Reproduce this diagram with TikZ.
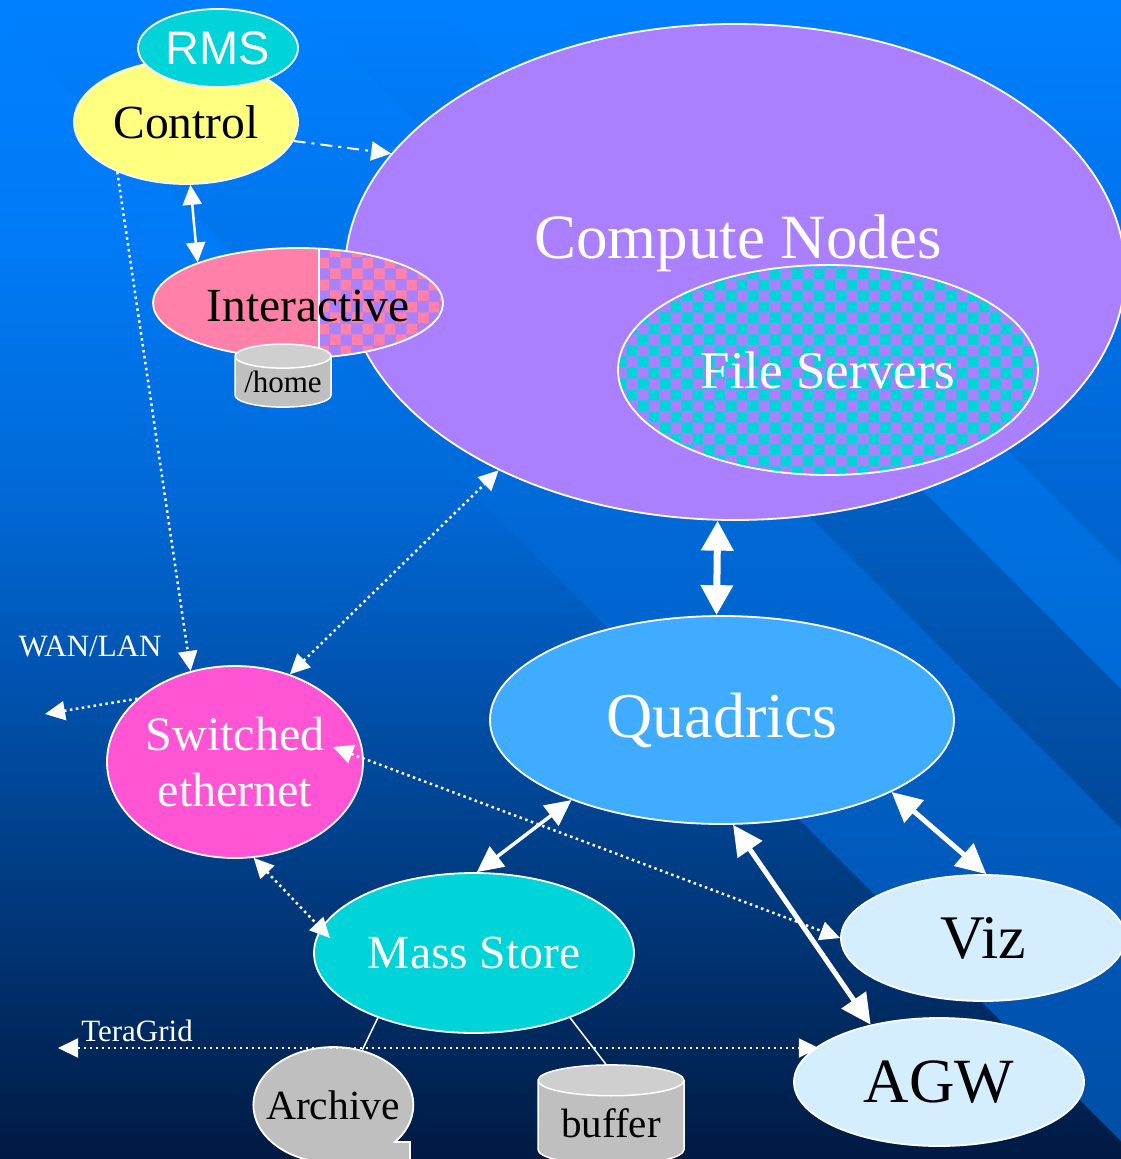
\documentclass[tikz,border=0pt]{standalone}
\usepackage{fontspec}
\setmainfont{Liberation Serif}
\newfontfamily\rmsfont{Liberation Sans}
\usetikzlibrary{shapes.geometric, arrows.meta, patterns}

\definecolor{bgtop}{HTML}{0080FF}
\definecolor{bgupper}{HTML}{007AF5}
\definecolor{bglower}{HTML}{0068D5}
\definecolor{bgmid}{HTML}{0058B8}
\definecolor{bgbot}{HTML}{001A42}
\definecolor{cpurple}{HTML}{AA80FF}
\definecolor{ccyan}{HTML}{00D4D8}
\definecolor{cyellow}{HTML}{FFFF80}
\definecolor{cpink}{HTML}{FF80A8}
\definecolor{cmagenta}{HTML}{FF55D5}
\definecolor{cquad}{HTML}{40ACFF}
\definecolor{clight}{HTML}{D5EEFF}
\definecolor{cangray}{HTML}{BFBFBF}
\definecolor{canlight}{HTML}{CFCFCF}

% slide background, stops placed in the 25bp--75bp part
\pgfdeclareverticalshading{slidebg}{100bp}{color(0bp)=(bgbot); color(25bp)=(bgbot); color(47.4bp)=(bgmid);
  color(53.4bp)=(bglower); color(64.2bp)=(bgupper); color(75bp)=(bgtop); color(100bp)=(bgtop)}

% checker cells of the shared parts
\pgfdeclarepatternformonly{bigcheck}{\pgfpointorigin}{\pgfqpoint{22pt}{22pt}}{\pgfqpoint{22pt}{22pt}}{%
  \pgfpathrectangle{\pgfpointorigin}{\pgfqpoint{11pt}{11pt}}%
  \pgfpathrectangle{\pgfqpoint{11pt}{11pt}}{\pgfqpoint{11pt}{11pt}}%
  \pgfusepath{fill}}

\def\headlen{20pt}
\tikzset{blob/.style={ellipse, draw=white, line width=1.8pt, inner sep=0pt}}
\tikzset{can/.style={cylinder, shape border rotate=90, aspect=0.31, draw=white, line width=1.5pt, cylinder uses custom fill, cylinder body fill=cangray, cylinder end fill=canlight, inner sep=0pt}}
\tikzset{link/.style={white, line width=2.5pt}}
\tikzset{dotlink/.style={white, line width=2.5pt, dash pattern=on 2.5pt off 3.5pt}}
\tikzset{dashlink/.style={white, line width=2pt, dash pattern=on 12pt off 6pt on 3pt off 6pt}}
\tikzset{bus/.style={white, line width=5pt}}
\tikzset{oneend/.style={-{Triangle[length=\headlen, width=19pt]}}}
\tikzset{bothends/.style={{Triangle[length=\headlen, width=19pt]}-{Triangle[length=\headlen, width=19pt]}}}
\tikzset{bigends/.style={{Triangle[length=30pt, width=29pt]}-{Triangle[length=30pt, width=29pt]}}}

\begin{document}
\begin{tikzpicture}[x=1pt, y=-1pt]
  % Frame
  \useasboundingbox (0,0) rectangle (1121,1159);
  \clip (0,0) rectangle (1121,1159);
  % Background and diagonal bands
  \shade[shading=slidebg] (0,0) rectangle (1121,1159);
  \shade[top color=bgtop, middle color={rgb,255:red,0;green,114;blue,228}, bottom color={rgb,255:red,0;green,78;blue,166}]
    (0,0) -- (293,0) -- (1121,828) -- (1121,1141) -- (0,20) -- cycle;
  \shade[top color=bgtop, middle color={rgb,255:red,0;green,104;blue,216}, bottom color={rgb,255:red,0;green,72;blue,154}]
    (293,0) -- (432,0) -- (1121,689) -- (1121,828) -- cycle;
  \shade[top color=bgtop, bottom color={rgb,255:red,0;green,106;blue,214}]
    (432,0) -- (557,0) -- (1121,564) -- (1121,689) -- cycle;
  \shade[top color=bgtop, bottom color={rgb,255:red,0;green,98;blue,206}]
    (557,0) -- (1121,0) -- (1121,564) -- cycle;

  % Cluster
  \node[blob, fill=cpurple, minimum width=780pt, minimum height=496pt,
        label={[white, font={\fontsize{63}{70}\selectfont}, xshift=3pt, yshift=29pt]center:Compute Nodes}] (compute) at (735,272) {};
  \node[blob, preaction={fill=cpurple}, pattern=bigcheck, pattern color=ccyan, minimum width=420pt, minimum height=210pt,
        text=white, font={\fontsize{53}{60}\selectfont}] (files) at (828,370) {File Servers};

  % Control side
  \node[blob, fill=cyellow, minimum width=224pt, minimum height=124pt, font={\fontsize{47.5}{52}\selectfont}] (ctrl) at (186,122) {Control};
  \node[blob, fill=ccyan, minimum width=160pt, minimum height=78pt, text=white, font={\rmsfont\fontsize{47}{52}\selectfont}] (rms) at (218,48) {RMS};
  \node[blob, fill=cpink, minimum width=290pt, minimum height=110pt,
        path picture={
          \fill[cpurple] ([xshift=21pt]path picture bounding box.north) rectangle (path picture bounding box.south east);
          \fill[pattern=bigcheck, pattern color=cpink] ([xshift=21pt]path picture bounding box.north) rectangle (path picture bounding box.south east);
          \draw[white, line width=1.2pt] ([xshift=21pt]path picture bounding box.north) -- ([xshift=21pt]path picture bounding box.south);
        },
        label={[font={\fontsize{47.5}{52}\selectfont}, xshift=10pt, yshift=-3pt]center:Interactive}] (inter) at (298,303) {};
  \node[can, minimum width=96pt, minimum height=63pt, font={\fontsize{31}{34}\selectfont}] (home) at (283,382) {/home};

  % Networks and devices
  \node[blob, fill=cmagenta, minimum width=256pt, minimum height=192pt, text=white, align=center,
        font={\fontsize{48}{56}\selectfont}] (sw) at (235,762) {Switched\\ethernet};
  \node[blob, fill=cquad, minimum width=464pt, minimum height=208pt, text=white, font={\fontsize{64}{70}\selectfont}] (quad) at (722,720) {Quadrics};
  \node[blob, fill=ccyan, minimum width=320pt, minimum height=160pt, text=white, font={\fontsize{47.5}{52}\selectfont}] (ms) at (474,953) {Mass Store};
  \node[blob, fill=clight, minimum width=284pt, minimum height=126pt, font={\fontsize{62}{68}\selectfont}] (viz) at (983,938) {Viz};
  \node[blob, fill=clight, minimum width=290pt, minimum height=128pt, font={\fontsize{63}{70}\selectfont}] (agw) at (939,1082) {AGW};

  % Storage
  \draw[white, line width=1.8pt, fill=cangray] (395,1142) arc[start angle=39.6, end angle=-270, x radius=80, y radius=58]
    -- (410,1163) -- (410,1142) -- cycle;
  \node[ellipse, minimum width=160pt, minimum height=116pt, inner sep=0pt, font={\fontsize{41.5}{46}\selectfont}] (archive) at (333,1105) {Archive};
  \node[can, minimum width=146pt, minimum height=100pt, font={\fontsize{41}{45}\selectfont}] (buf) at (611,1123) {buffer};

  % Labels
  \node[white, font={\fontsize{31}{34}\selectfont}] (wanlbl) at (90,646) {WAN/LAN};
  \node[white, font={\fontsize{31}{34}\selectfont}] (tglbl) at (137,1031) {TeraGrid};
  \coordinate (wan) at (45,714);
  \coordinate (tg) at (58,1048);

  % Links
  \draw[dashlink, oneend] (ctrl.-10) -- (compute.161);
  \draw[link, bothends] (inter.158) -- (ctrl.-86);
  \draw[dotlink, oneend] (ctrl.216) -- (sw.116);
  \draw[dotlink, bothends] (sw.58) -- (compute.220);
  \draw[dotlink, oneend] (sw.147) -- (wan);
  \draw[bus, line width=7pt, {Triangle[length=30pt, width=31pt]}-{Triangle[length=30pt, width=31pt]}] (compute.-94.6) -- (quad.93.9);
  \draw[link, line width=3.5pt, {Triangle[length=26pt, width=25pt]}-{Triangle[length=26pt, width=25pt]}] (quad.-152.8) -- (ms.88.6);
  \draw[bus, bigends] (quad.-23.7) -- (viz.87.4);
  \draw[bus, bigends] (quad.-84.7) -- (agw.140);
  \draw[dotlink, bothends] ([shift={(98,-15)}]sw.center) -- (viz.180);
  \draw[dotlink, bothends] (sw.-79.4) -- ([shift={(-144,-15)}]ms.center);
  \draw[dotlink, line width=2pt, bothends] (tg) -- (tg -| agw.163);
  \draw[white, line width=1.5pt] (ms.-146) -- (archive.62);
  \draw[white, line width=1.5pt] (ms.-34) -- (buf.95);
\end{tikzpicture}
\end{document}
